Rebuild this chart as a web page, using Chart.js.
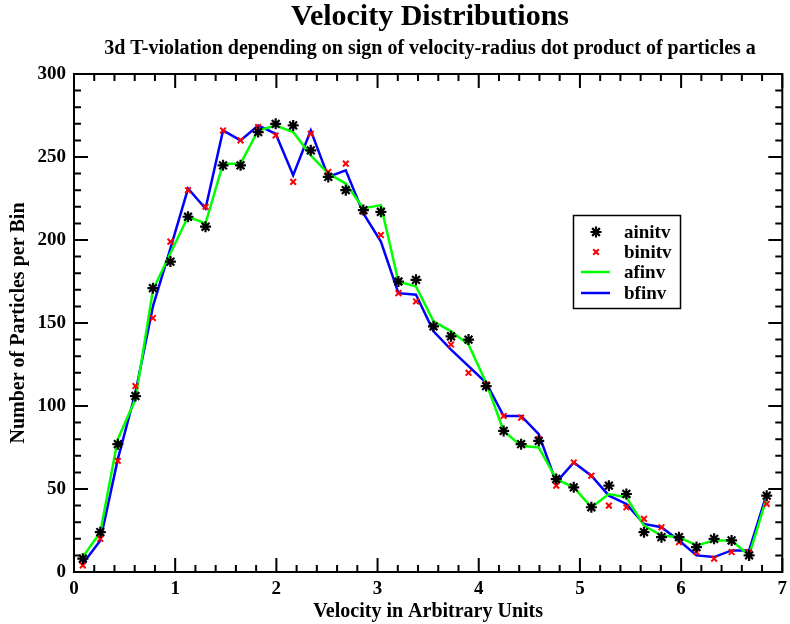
<!DOCTYPE html>
<html>
<head>
<meta charset="utf-8">
<script src="https://cdn.jsdelivr.net/npm/chart.js@4.4.1/dist/chart.umd.min.js"></script>
<style>
  html, body { margin: 0; padding: 0; background: #fff; }
  #wrap { width: 790px; height: 624px; }
</style>
</head>
<body>
<div id="wrap"><canvas id="chart" width="790" height="624"></canvas></div>
<script>
// bin centres (velocity)
const velocity = [
    0.087, 0.260, 0.433, 0.607, 0.780, 0.953, 1.127, 1.300, 1.473, 1.646,
    1.820, 1.993, 2.166, 2.340, 2.513, 2.686, 2.860, 3.033, 3.206, 3.380,
    3.553, 3.726, 3.899, 4.073, 4.246, 4.419, 4.593, 4.766, 4.939, 5.113,
    5.286, 5.459, 5.633, 5.806, 5.979, 6.152, 6.326, 6.499, 6.672, 6.846
];

const ainitv = [
    8, 24, 77, 106, 171, 187, 214, 208, 245, 245,
    265, 270, 269, 254, 238, 230, 218, 217, 175, 176,
    148, 142, 140, 112, 85, 77, 79, 56, 51, 39,
    52, 47, 24, 21, 21, 15, 20, 19, 10, 46
];

const binitv = [
    4, 20, 67, 112, 153, 199, 230, 220, 266, 260,
    268, 263, 235, 264, 241, 246, 217, 203, 168, 163,
    148, 137, 120, 113, 94, 93, 80, 52, 66, 58,
    40, 39, 32, 27, 18, 12, 8, 12, 12, 41
];

const afinv = [
    9, 24, 80, 104, 170, 192, 214, 210, 246, 246,
    266, 269, 265, 251, 240, 234, 219, 221, 175, 172,
    151, 145, 137, 114, 85, 76, 75, 56, 51, 39,
    47, 45, 28, 22, 21, 16, 19, 19, 10, 45
];

const bfinv = [
    5, 19, 68, 108, 160, 195, 231, 219, 266, 260,
    269, 264, 239, 266, 238, 242, 216, 199, 168, 167,
    145, 134, 124, 114, 94, 94, 83, 54, 66, 58,
    46, 41, 29, 27, 19, 10, 9, 13, 13, 47
];

const xTicks = [0, 1, 2, 3, 4, 5, 6, 7];
const yTicks = [0, 50, 100, 150, 200, 250, 300];

const titleText = 'Velocity Distributions';
const subtitleText = '3d T-violation depending on sign of velocity-radius dot product of particles a';

const SERIF = "'Liberation Serif', 'DejaVu Serif', serif";

function toPoints(ys) {
    return ys.map((y, i) => ({ x: velocity[i], y: y }));
}

// frame with inward ticks on all four sides, titles, legend box
const gracePlugin = {
    id: 'grace',
    afterDraw(chart) {
        const ctx = chart.ctx;
        const area = chart.chartArea;
        const xs = chart.scales.x;
        const ys = chart.scales.y;

        ctx.save();
        ctx.strokeStyle = '#000';
        ctx.lineWidth = 2;

        for (let i = 0; i <= 35; i++) {
            const px = xs.getPixelForValue(i / 5);
            const len = i % 5 === 0 ? 14 : 7;
            ctx.beginPath();
            ctx.moveTo(px, area.bottom);
            ctx.lineTo(px, area.bottom - len);
            ctx.moveTo(px, area.top);
            ctx.lineTo(px, area.top + len);
            ctx.stroke();
        }
        for (let i = 0; i <= 30; i++) {
            const py = ys.getPixelForValue(i * 10);
            const len = i % 5 === 0 ? 14 : 7;
            ctx.beginPath();
            ctx.moveTo(area.left, py);
            ctx.lineTo(area.left + len, py);
            ctx.moveTo(area.right, py);
            ctx.lineTo(area.right - len, py);
            ctx.stroke();
        }
        ctx.strokeRect(area.left, area.top, area.right - area.left, area.bottom - area.top);

        // titles
        ctx.fillStyle = '#000';
        ctx.textAlign = 'center';
        ctx.textBaseline = 'alphabetic';
        ctx.font = 'bold 30px ' + SERIF;
        ctx.fillText(titleText, 430, 25);
        ctx.font = 'bold 20px ' + SERIF;
        ctx.fillText(subtitleText, 430, 54);

        // legend
        const lx = 573, ly = 215, lw = 107, lh = 93;
        ctx.lineWidth = 1.5;
        ctx.strokeRect(lx + 0.5, ly + 0.5, lw, lh);
        const rows = [232, 252, 272, 293];
        ctx.textAlign = 'left';
        ctx.font = 'bold 19px ' + SERIF;
        chart.data.datasets.forEach((ds, i) => {
            const y = rows[i];
            if (ds.showLine) {
                ctx.strokeStyle = ds.borderColor;
                ctx.lineWidth = ds.borderWidth;
                ctx.beginPath();
                ctx.moveTo(581, y);
                ctx.lineTo(610, y);
                ctx.stroke();
            } else {
                ctx.strokeStyle = ds.pointBorderColor;
                ctx.fillStyle = ds.pointBorderColor;
                ctx.lineWidth = ds.pointBorderWidth;
                Chart.helpers.drawPoint(ctx, {
                    pointStyle: ds.pointStyle,
                    radius: ds.pointRadius,
                    borderWidth: ds.pointBorderWidth,
                    rotation: 0
                }, 596, y);
            }
            ctx.fillStyle = '#000';
            ctx.fillText(ds.label, 624, y + 6);
        });
        ctx.restore();
    }
};

const ctx = document.getElementById('chart');

new Chart(ctx, {
    type: 'scatter',
    data: {
        datasets: [
            {
                label: 'ainitv',
                data: toPoints(ainitv),
                showLine: false,
                pointStyle: 'star',
                pointRadius: 5.5,
                pointBorderWidth: 2.2,
                pointBorderColor: '#000000',
                pointBackgroundColor: '#000000'
            },
            {
                label: 'binitv',
                data: toPoints(binitv),
                showLine: false,
                pointStyle: 'crossRot',
                pointRadius: 4,
                pointBorderWidth: 2,
                pointBorderColor: '#ff0000',
                pointBackgroundColor: '#ff0000'
            },
            {
                label: 'afinv',
                data: toPoints(afinv),
                showLine: true,
                borderColor: '#00ff00',
                borderWidth: 2.5,
                pointRadius: 0,
                tension: 0
            },
            {
                label: 'bfinv',
                data: toPoints(bfinv),
                showLine: true,
                borderColor: '#0000ff',
                borderWidth: 2.5,
                pointRadius: 0,
                tension: 0
            }
        ]
    },
    options: {
        responsive: false,
        animation: false,
        devicePixelRatio: 1,
        layout: {
            padding: { top: 74, right: 3, left: 0, bottom: 0 }
        },
        plugins: {
            legend: { display: false },
            tooltip: { enabled: false }
        },
        scales: {
            x: {
                type: 'linear',
                min: 0,
                max: 7,
                afterBuildTicks: (scale) => {
                    scale.ticks = xTicks.map(v => ({ value: v }));
                },
                afterFit: (scale) => {
                    scale.height = 52;
                    scale.paddingLeft = 0;
                    scale.paddingRight = 0;
                },
                ticks: {
                    color: '#000',
                    padding: 6,
                    maxRotation: 0,
                    font: { family: SERIF, size: 19, weight: 'bold' }
                },
                grid: { display: false, drawTicks: false },
                border: { display: false },
                title: {
                    display: true,
                    text: 'Velocity in Arbitrary Units',
                    color: '#000',
                    padding: { top: 5, bottom: 0 },
                    font: { family: SERIF, size: 20, weight: 'bold' }
                }
            },
            y: {
                type: 'linear',
                min: 0,
                max: 300,
                afterBuildTicks: (scale) => {
                    scale.ticks = yTicks.map(v => ({ value: v }));
                },
                afterFit: (scale) => {
                    scale.width = 74;
                    scale.paddingTop = 0;
                    scale.paddingBottom = 0;
                },
                ticks: {
                    color: '#000',
                    padding: 8,
                    font: { family: SERIF, size: 19, weight: 'bold' }
                },
                grid: { display: false, drawTicks: false },
                border: { display: false },
                title: {
                    display: true,
                    text: 'Number of Particles per Bin',
                    color: '#000',
                    padding: { top: 7, bottom: 0 },
                    font: { family: SERIF, size: 20, weight: 'bold' }
                }
            }
        }
    },
    plugins: [gracePlugin]
});
</script>
</body>
</html>
